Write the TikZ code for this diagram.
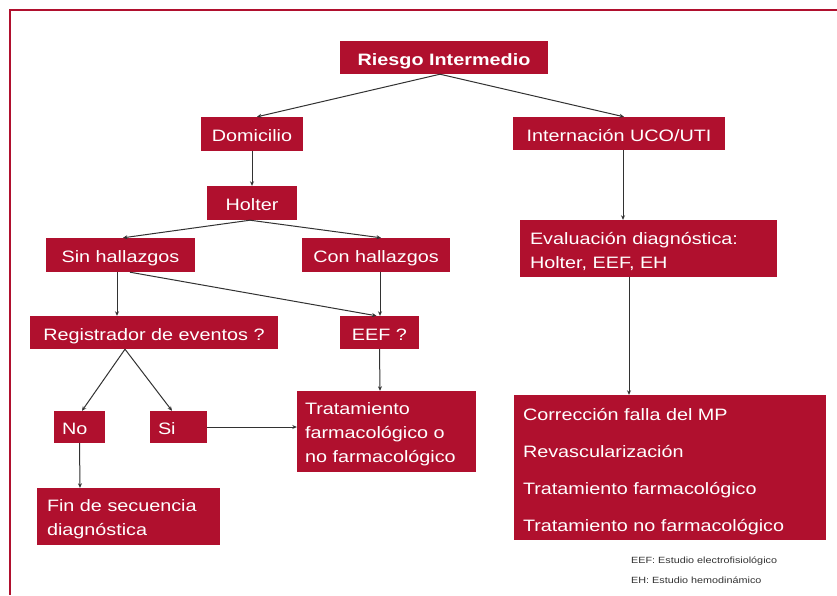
\documentclass[tikz,border=0pt]{standalone}
\usepackage{fontspec}
\setmainfont{Liberation Sans}[FakeStretch=1.2]
\usetikzlibrary{arrows.meta}
\definecolor{boxred}{RGB}{176,16,46}
\definecolor{linegray}{RGB}{50,50,50}
\newcommand{\upstrut}{\rule{0pt}{18pt}}
\begin{document}
\begin{tikzpicture}[x=1pt,y=-1pt,
  box/.style={fill=boxred,text=white,inner sep=0pt,text height=15.5pt,text depth=0pt,font=\fontsize{16.5}{20}\selectfont},
  mbox/.style={fill=boxred,text=white,inner sep=0pt,align=left,font=\fontsize{16.5}{24}\selectfont},
  conn/.style={draw=linegray,line width=1pt,-{Stealth[length=4.5pt,width=4pt]}},
  note/.style={anchor=west,inner sep=0pt,text=linegray,font=\fontsize{9}{11}\selectfont}]
\useasboundingbox (0,0) rectangle (837,595);
\fill[white] (0,0) rectangle (837,595);
\draw[boxred,line width=2pt] (837,9.5) -- (9.5,9.5) -- (9.5,595);

% nodes
\node[box,minimum width=208pt,minimum height=33pt,font=\fontsize{16.5}{20}\selectfont\bfseries] (riesgo) at (444,57.5) {Riesgo Intermedio};
\node[box,minimum width=102pt,minimum height=34pt] (dom) at (252,134) {Domicilio};
\node[box,minimum width=212pt,minimum height=33pt] (intern) at (619,133.5) {Internación UCO/UTI};
\node[box,minimum width=90pt,minimum height=34pt] (holter) at (252,203) {Holter};
\node[box,minimum width=149pt,minimum height=34pt] (sin) at (120.5,255) {Sin hallazgos};
\node[box,minimum width=148pt,minimum height=34pt] (con) at (376,255) {Con hallazgos};
\node[mbox,minimum width=257pt,minimum height=57pt,text width=237pt] (eval) at (648.5,248.5) {\upstrut Evaluación diagnóstica:\\Holter, EEF, EH};
\node[box,minimum width=248pt,minimum height=33pt] (reg) at (154,332.5) {Registrador de eventos ?};
\node[box,minimum width=79pt,minimum height=33pt] (eef) at (379.5,332.5) {EEF ?};
\node[box,align=left,minimum width=51pt,minimum height=32pt,text width=35pt] (no) at (79.5,427) {No};
\node[box,align=left,minimum width=57pt,minimum height=32pt,text width=41pt] (si) at (178.5,427) {Si};
\node[mbox,minimum width=179pt,minimum height=81pt,text width=163pt] (trat) at (386.5,431.5) {\upstrut Tratamiento\\farmacológico o\\no farmacológico};
\node[mbox,minimum width=183pt,minimum height=57pt,text width=163pt] (fin) at (128.5,516.5) {\upstrut Fin de secuencia\\diagnóstica};
\node[mbox,font=\fontsize{16.5}{37}\selectfont,minimum width=312pt,minimum height=145pt,text width=294pt] (corr) at (670,467.5) {\rule{0pt}{20pt}Corrección falla del MP\\Revascularización\\Tratamiento farmacológico\\Tratamiento no farmacológico};

\node[note] (fn1) at (631,561) {EEF: Estudio electrofisiológico};
\node[note] (fn2) at (631,580) {EH: Estudio hemodinámico};

% connectors
\draw[conn] ([xshift=-4pt]riesgo.south) -- ([xshift=5pt]dom.north);
\draw[conn] ([xshift=-4pt]riesgo.south) -- ([xshift=5pt]intern.north);
\draw[conn] (dom.south) -- (holter.north);
\draw[conn] ([xshift=-2pt]holter.south) -- ([xshift=2.5pt]sin.north);
\draw[conn] ([xshift=-2pt]holter.south) -- ([xshift=5pt]con.north);
\draw[conn] ([xshift=-3.5pt]sin.south) -- ([xshift=-37pt]reg.north);
\draw[conn] ([xshift=9.5pt]sin.south) -- ([xshift=-3pt]eef.north);
\draw[conn] ([xshift=4pt]con.south) -- ([xshift=0.5pt]eef.north);
\draw[conn] ([xshift=4pt]intern.south) -- ([xshift=-25.5pt]eval.north);
\draw[conn] ([xshift=-19.5pt]eval.south) -- ([xshift=-41pt]corr.north);
\draw[conn] ([xshift=-29pt]reg.south) -- ([xshift=2.5pt]no.north);
\draw[conn] ([xshift=-29pt]reg.south) -- ([xshift=-6.5pt]si.north);
\draw[conn] (no.south) -- ([xshift=-48.5pt]fin.north);
\draw[conn] (si.east) -- (si.east -| trat.west);
\draw[conn] (eef.south) -- ([xshift=-6.5pt]trat.north);
\end{tikzpicture}
\end{document}
